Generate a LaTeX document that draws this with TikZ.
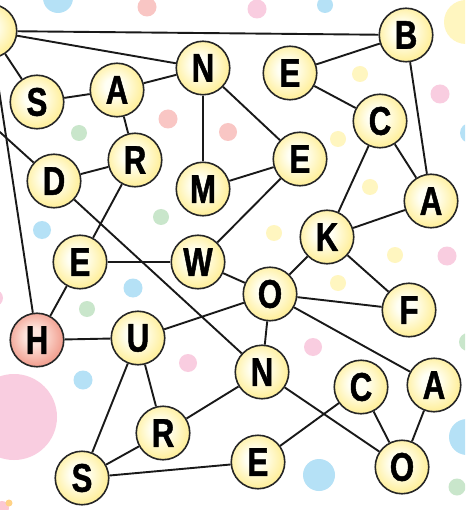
\documentclass[tikz,border=0pt]{standalone}
\usepackage{fontspec}
\newfontfamily\letterfont[FakeStretch=0.78,FakeBold=1.2]{Liberation Sans}
\definecolor{yin}{HTML}{FFFFF4}
\definecolor{yout}{HTML}{FFF0A0}
\definecolor{rin}{HTML}{FDE4DC}
\definecolor{rout}{HTML}{F2A394}
\definecolor{dpink}{HTML}{F9CDE0}
\definecolor{dsalmon}{HTML}{F9C6C4}
\definecolor{dblue}{HTML}{B5E1F6}
\definecolor{dgreen}{HTML}{C9E6CB}
\definecolor{dyellow}{HTML}{FFF6C0}
\pgfdeclareradialshading{yshade}{\pgfpoint{-4bp}{4bp}}{color(0bp)=(yin); color(8bp)=(yin); color(25bp)=(yout); color(50bp)=(yout)}
\pgfdeclareradialshading{rshade}{\pgfpoint{-4bp}{4bp}}{color(0bp)=(rin); color(8bp)=(rin); color(25bp)=(rout); color(50bp)=(rout)}
\tikzset{
  ball/.style={circle, draw=black!85, line width=1.6pt, minimum size=53.5pt, inner sep=0pt,
    shading=yshade, font=\letterfont\bfseries\fontsize{40}{40}\selectfont},
  redball/.style={ball, shading=rshade},
  link/.style={draw=black!90, line width=1.9pt},
}
\begin{document}
\begin{tikzpicture}[x=1pt,y=-1pt]
\useasboundingbox (0,0) rectangle (465,510);
\clip (0,0) rectangle (465,510);
\fill[white] (0,0) rectangle (465,510);
% background dots
\fill[dblue] (58,-2) circle (15);
\fill[dsalmon] (147,7) circle (9.5);
\fill[dpink] (257,9) circle (9.5);
\fill[dblue] (325,5) circle (8);
\fill[dyellow] (466,22) circle (22);
\fill[dyellow] (360,74) circle (8);
\fill[dpink] (440,94) circle (9.5);
\fill[dblue] (470,133) circle (10);
\fill[dsalmon] (228,132) circle (9);
\fill[dsalmon] (168,119) circle (9.5);
\fill[dgreen] (79,133) circle (8);
\fill[dyellow] (338,139) circle (8);
\fill[dyellow] (370,187) circle (8);
\fill[dgreen] (161,217) circle (8);
\fill[dblue] (42,230) circle (9);
\fill[dyellow] (274,233) circle (8);
\fill[dyellow] (395,255) circle (8);
\fill[dpink] (447,256) circle (9.5);
\fill[dyellow] (338,283) circle (8);
\fill[dblue] (133,288) circle (9.5);
\fill[dgreen] (87,309) circle (8);
\fill[dpink] (-5,298) circle (8);
\fill[dpink] (313,347) circle (9);
\fill[dgreen] (468,342) circle (9);
\fill[dpink] (188,363) circle (9);
\fill[dblue] (83,380) circle (9.5);
\fill[dpink] (14,417) circle (43);
\fill[dblue] (319,475) circle (16);
\fill[dblue] (467,437) circle (18);
\fill[dgreen] (457,487) circle (8.5);
\fill[dpink!80!red!60] (2,508) circle (7);
\fill[dyellow!70!orange] (9,503) circle (3.5);
% nodes
\node[ball] (TL) at (-10,31) {};
\node[ball] (S1) at (37,102) {S};
\node[ball] (A1) at (117,90) {A};
\node[ball] (N1) at (203,68) {N};
\node[ball] (R1) at (135,160) {R};
\node[ball] (D1) at (54,181) {D};
\node[ball] (M1) at (203,189) {M};
\node[ball] (B1) at (406,35) {B};
\node[ball] (E1) at (290,73) {E};
\node[ball] (C1) at (380,121) {C};
\node[ball] (E2) at (300,159) {E};
\node[ball] (A2) at (431,201) {A};
\node[ball] (K1) at (327,237) {K};
\node[ball] (O1) at (270,294) {O};
\node[ball] (F1) at (409,310) {F};
\node[ball] (E3) at (80,262) {E};
\node[ball] (W1) at (198,262) {W};
\node[redball] (H1) at (37,340) {H};
\node[ball] (U1) at (138,338) {U};
\node[ball] (N2) at (262,372) {N};
\node[ball] (C2) at (361,387) {C};
\node[ball] (A3) at (434,385) {A};
\node[ball] (O2) at (402,467) {O};
\node[ball] (E4) at (258,462) {E};
\node[ball] (R2) at (163,433) {R};
\node[ball] (S2) at (82,478) {S};
\coordinate (off) at (-40,96);
% connectors
\foreach \a/\b in {TL/B1, TL/N1, TL/S1, TL/H1, off/D1, S1/A1, A1/N1, A1/R1, R1/D1, R1/E3,
  N1/M1, N1/E2, E1/B1, E1/C1, B1/A2, C1/A2, C1/K1, E2/M1, E2/W1, K1/A2, K1/O1, K1/F1,
  O1/F1, O1/W1, O1/U1, O1/N2, O1/A3, D1/N2, E3/W1, E3/H1, H1/U1, U1/R2, U1/S2, R2/S2,
  R2/N2, S2/E4, E4/C2, N2/O2, C2/O2, A3/O2}
  \path[link] (\a) -- (\b);
\end{tikzpicture}
\end{document}
